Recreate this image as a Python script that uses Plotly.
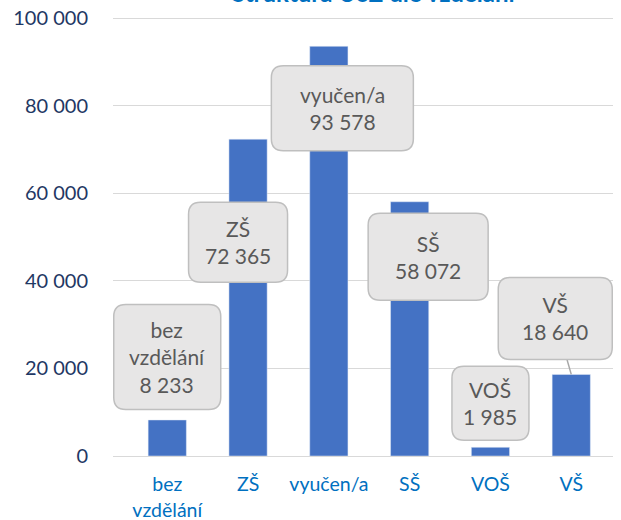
import plotly.graph_objects as go

categories = ["bez vzdělání", "ZŠ", "vyučen/a", "SŠ", "VOŠ", "VŠ"]
tick_labels = ["bez<br>vzdělání", "ZŠ", "vyučen/a", "SŠ", "VOŠ", "VŠ"]
callout_names = ["bez<br>vzdělání", "ZŠ", "vyučen/a", "SŠ", "VOŠ", "VŠ"]
values = [8233, 72365, 93578, 58072, 1985, 18640]
title_text = "Struktura UoZ dle vzdělání"

# callout box layout: (xshift, yshift(up), width, height)
callout_layout = [
    (0, 63, 107, 105),
    (-10, -103, 99, 80),
    (13.5, -62, 142, 85),
    (18.5, -55, 120, 87),
    (0, 44, 77, 74),
    (-16, 56, 114, 82),
]

def fmt(v):
    return f"{v:,}".replace(",", " ")

def rounded_rect(cx, cy, w, h, r):
    x0, x1 = cx - w / 2, cx + w / 2
    y0, y1 = cy - h / 2, cy + h / 2
    return (f"M{x0 + r},{y0} L{x1 - r},{y0} Q{x1},{y0} {x1},{y0 + r} "
            f"L{x1},{y1 - r} Q{x1},{y1} {x1 - r},{y1} L{x0 + r},{y1} "
            f"Q{x0},{y1} {x0},{y1 - r} L{x0},{y0 + r} Q{x0},{y0} {x0 + r},{y0} Z")

fig = go.Figure(go.Bar(
    x=categories, y=values, marker_color="#4472C4", width=0.473,
    hoverinfo="skip",
))

shapes = []
annotations = []
for i, (cat, val) in enumerate(zip(categories, values)):
    dx, dy, w, h = callout_layout[i]
    if cat == "VŠ":
        shapes.append(dict(
            type="path", xref="x", yref="y", xsizemode="pixel", ysizemode="pixel",
            xanchor=cat, yanchor=val, path=f"M0,0 L{dx},{dy}",
            line=dict(color="#A6A6A6", width=1.5), layer="above",
        ))
    shapes.append(dict(
        type="path", xref="x", yref="y", xsizemode="pixel", ysizemode="pixel",
        xanchor=cat, yanchor=val, path=rounded_rect(dx, dy, w, h, 12),
        fillcolor="#E7E6E6", line=dict(color="#BFBFBF", width=1.5), layer="above",
    ))
    annotations.append(dict(
        x=cat, y=val, xref="x", yref="y", showarrow=False,
        text=f"{callout_names[i]}<br>{fmt(val)}",
        xshift=dx, yshift=dy, align="center",
        font=dict(family="Lato", size=21, color="#595959"),
    ))

annotations.append(dict(
    x=0.522, y=1, xref="paper", yref="paper", xanchor="center", yanchor="bottom",
    yshift=7, showarrow=False, text=f"<b>{title_text}</b>",
    font=dict(family="Lato", size=24, color="#0070C0"),
))

fig.update_layout(
    width=621, height=520,
    margin=dict(l=113, r=8, t=16, b=64, autoexpand=False),
    paper_bgcolor="white", plot_bgcolor="white",
    separators=", ",
    showlegend=False,
    shapes=shapes,
    annotations=annotations,
    font=dict(family="Lato"),
)
fig.update_xaxes(
    tickvals=categories, ticktext=tick_labels,
    tickfont=dict(family="Lato", size=19.5, color="#0070C0"),
    ticks="outside", ticklen=11, tickcolor="rgba(0,0,0,0)",
    showline=False, showgrid=False, automargin=False,
)
fig.update_yaxes(
    range=[0, 100500], tickvals=[0, 20000, 40000, 60000, 80000, 100000],
    tickformat=",d",
    tickfont=dict(family="Lato", size=20, color="#1F3864"),
    showgrid=True, gridcolor="#D9D9D9", gridwidth=1,
    zeroline=True, zerolinecolor="#D9D9D9", zerolinewidth=1,
    ticks="outside", ticklen=20, tickcolor="rgba(0,0,0,0)",
    showline=False, automargin=False,
)

fig.write_html("out.html", config={"displayModeBar": False},
               post_script="document.body.style.margin='0';")
